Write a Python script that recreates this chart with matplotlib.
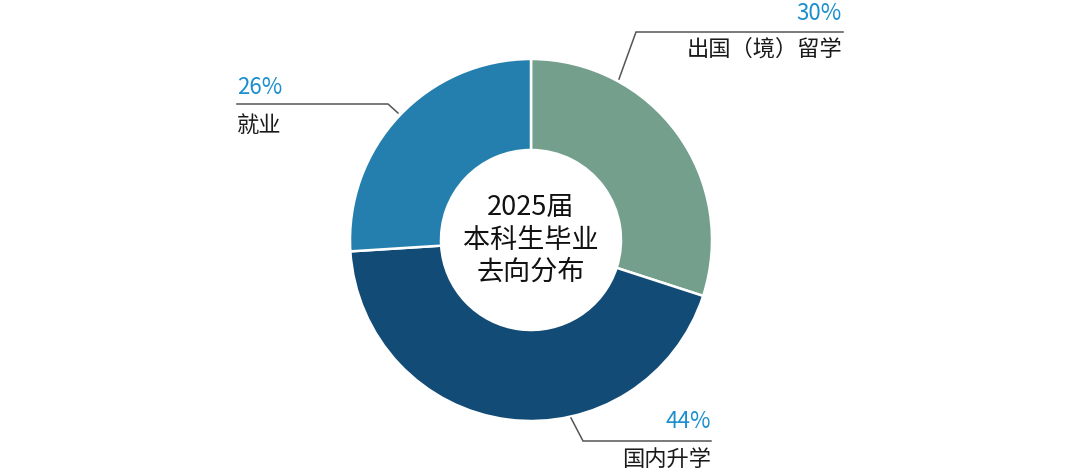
import matplotlib
matplotlib.use('Agg')
import matplotlib.pyplot as plt

plt.rcParams['font.family'] = ['Noto Sans CJK SC', 'DejaVu Sans']

categories = ['出国（境）留学', '国内升学', '就业']
shares = [30, 44, 26]
colors = ['#739f8c', '#124b75', '#247fae']
center_title = '2025届\n本科生毕业\n去向分布'

W, H = 1080, 475
fig = plt.figure(figsize=(W / 100, H / 100), dpi=100)
ax = fig.add_axes([0, 0, 1, 1])
ax.set_xlim(0, W)
ax.set_ylim(0, H)
ax.set_aspect('equal')
ax.axis('off')

cx, cy = 531, H - 240
r_out, r_in = 181, 90

ax.pie(shares, colors=colors, startangle=90, counterclock=False,
       center=(cx, cy), radius=r_out,
       wedgeprops=dict(width=r_out - r_in, edgecolor='white', linewidth=1.8))
ax.set_xlim(0, W)
ax.set_ylim(0, H)

ax.text(cx, cy, center_title, ha='center', va='center', fontsize=19.5,
        linespacing=1.25, color='#111111')

pct_color = '#1b8fcd'
txt_color = '#1a1a1a'
# leader lines: elbow point first for the lower label
leaders = [
    [(619, 79), (636, 32), (843, 32)],
    [(571, 418), (583, 441), (711, 441)],
    [(398, 113), (388, 104), (237, 104)],
]
label_pos = [  # x, alignment, pct y, name y
    (842, 'right', 14, 49),
    (711, 'right', 422, 459),
    (237, 'left', 87, 125),
]

for i, cat in enumerate(categories):
    pts = leaders[i]
    xs = [p[0] for p in pts]
    ys = [H - p[1] for p in pts]
    ax.plot(xs, ys, color='#555555', lw=1.1, solid_joinstyle='miter')
    x, al, py, ny = label_pos[i]
    ax.text(x, H - py, f'{shares[i]}%', ha=al, va='center', fontsize=16,
            color=pct_color)
    ax.text(x, H - ny, cat, ha=al, va='center', fontsize=16, color=txt_color)

fig.savefig('out.png', dpi=100)
